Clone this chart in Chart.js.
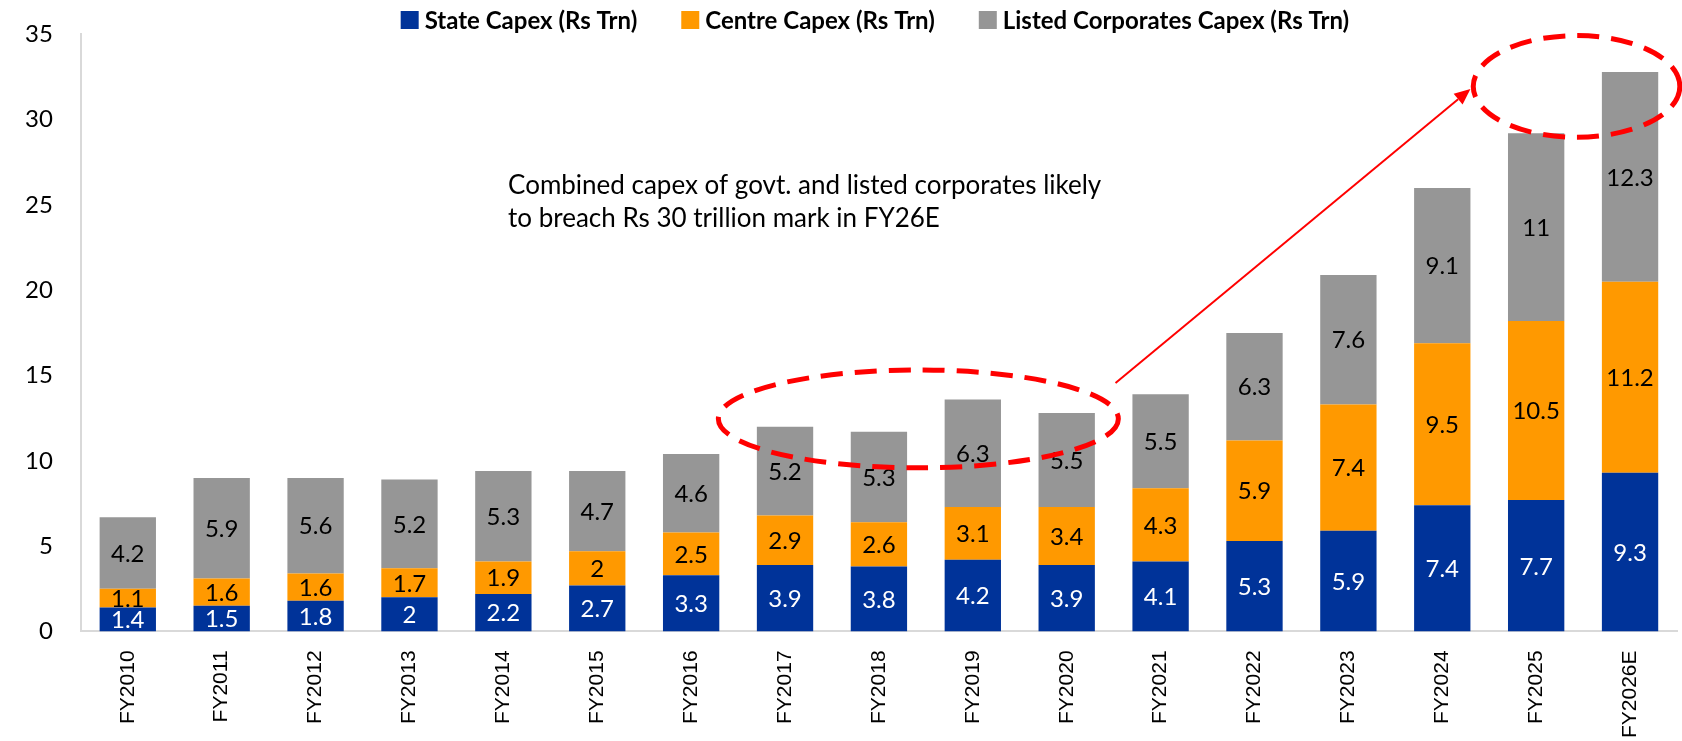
<!DOCTYPE html>
<html>
<head>
<meta charset="utf-8">
<script src="https://cdn.jsdelivr.net/npm/chart.js@4.4.1/dist/chart.umd.min.js"></script>
<style>
  html, body { margin: 0; padding: 0; background: #ffffff; }
  #wrap { width: 1682px; height: 741px; }
</style>
</head>
<body>
<div id="wrap"><canvas id="c" width="1682" height="741"></canvas></div>
<script>
// ---------------- data ----------------
const categories = ["FY2010","FY2011","FY2012","FY2013","FY2014","FY2015","FY2016","FY2017","FY2018","FY2019","FY2020","FY2021","FY2022","FY2023","FY2024","FY2025","FY2026E"];
const stateCapex  = [1.4, 1.5, 1.8, 2, 2.2, 2.7, 3.3, 3.9, 3.8, 4.2, 3.9, 4.1, 5.3, 5.9, 7.4, 7.7, 9.3];
const centreCapex = [1.1, 1.6, 1.6, 1.7, 1.9, 2, 2.5, 2.9, 2.6, 3.1, 3.4, 4.3, 5.9, 7.4, 9.5, 10.5, 11.2];
const listedCapex = [4.2, 5.9, 5.6, 5.2, 5.3, 4.7, 4.6, 5.2, 5.3, 6.3, 5.5, 5.5, 6.3, 7.6, 9.1, 11, 12.3];
const seriesNames = ["State Capex (Rs Trn)", "Centre Capex (Rs Trn)", "Listed Corporates Capex (Rs Trn)"];
const yTicks = [0, 5, 10, 15, 20, 25, 30, 35];
const noteLines = ["Combined capex of govt. and listed corporates likely", "to breach Rs 30 trillion mark in FY26E"];

// ---------------- styling / annotation placement (in data units) ----------------
const COLORS = ["#003399", "#FF9900", "#969696"];
const LABEL_COLORS = ["#FFFFFF", "#000000", "#000000"];
const ELLIPSES = [
  { cx: 8.42, cy: 12.46, rx: 2.13, ry: 2.87 },
  { cx: 15.43, cy: 31.95, rx: 1.10, ry: 2.98 }
];
const ARROW = { x1: 10.52, y1: 14.57, x2: 14.3, y2: 31.8 };
const NOTE_POS = { x: 4.05, y: 26.15 };

const CAL = "Lato, 'Noto Sans', sans-serif";

const segLabels = {
  id: 'segLabels',
  afterDatasetsDraw(chart) {
    const ctx = chart.ctx;
    ctx.save();
    ctx.font = "24px " + CAL;
    ctx.textAlign = 'center';
    ctx.textBaseline = 'middle';
    chart.data.datasets.forEach((ds, di) => {
      const meta = chart.getDatasetMeta(di);
      meta.data.forEach((bar, i) => {
        const p = bar.getProps(['x', 'y', 'base'], true);
        ctx.fillStyle = LABEL_COLORS[di];
        ctx.fillText(String(ds.data[i]), p.x, (p.y + p.base) / 2 + 1);
      });
    });
    ctx.restore();
  }
};

const customLegend = {
  id: 'customLegend',
  afterDraw(chart) {
    const ctx = chart.ctx;
    ctx.save();
    ctx.font = "bold 24px " + CAL;
    ctx.textBaseline = 'middle';
    const box = 18, gapBoxText = 6, gapItems = 44;
    const widths = chart.data.datasets.map(ds => box + gapBoxText + ctx.measureText(ds.label).width);
    const total = widths.reduce((a, b) => a + b, 0) + gapItems * (widths.length - 1);
    const ca = chart.chartArea;
    let x = (ca.left + ca.right) / 2 - total / 2 - 4;
    const y = 20;
    chart.data.datasets.forEach((ds, i) => {
      ctx.fillStyle = ds.backgroundColor;
      ctx.fillRect(x, y - box / 2, box, box);
      ctx.fillStyle = '#000';
      ctx.fillText(ds.label, x + box + gapBoxText, y + 1);
      x += widths[i] + gapItems;
    });
    ctx.restore();
  }
};

const annotations = {
  id: 'annotations',
  afterDraw(chart) {
    const ctx = chart.ctx;
    const xs = chart.scales.x, ys = chart.scales.y;
    const catW = xs.getPixelForValue(1) - xs.getPixelForValue(0);
    const unitH = ys.getPixelForValue(0) - ys.getPixelForValue(1);
    ctx.save();
    ctx.strokeStyle = '#FF0000';
    ctx.lineWidth = 5;
    ctx.setLineDash([22, 12]);
    ELLIPSES.forEach(e => {
      ctx.beginPath();
      ctx.ellipse(xs.getPixelForValue(e.cx), ys.getPixelForValue(e.cy), e.rx * catW, e.ry * unitH, 0, 0, Math.PI * 2);
      ctx.stroke();
    });
    ctx.setLineDash([]);
    const x1 = xs.getPixelForValue(ARROW.x1), y1 = ys.getPixelForValue(ARROW.y1);
    const x2 = xs.getPixelForValue(ARROW.x2), y2 = ys.getPixelForValue(ARROW.y2);
    const ang = Math.atan2(y2 - y1, x2 - x1);
    const hl = 16, hw = 7;
    ctx.lineWidth = 2;
    ctx.beginPath();
    ctx.moveTo(x1, y1);
    ctx.lineTo(x2 - hl * Math.cos(ang), y2 - hl * Math.sin(ang));
    ctx.stroke();
    ctx.fillStyle = '#FF0000';
    ctx.beginPath();
    ctx.moveTo(x2, y2);
    ctx.lineTo(x2 - hl * Math.cos(ang) + hw * Math.sin(ang), y2 - hl * Math.sin(ang) - hw * Math.cos(ang));
    ctx.lineTo(x2 - hl * Math.cos(ang) - hw * Math.sin(ang), y2 - hl * Math.sin(ang) + hw * Math.cos(ang));
    ctx.closePath();
    ctx.fill();
    ctx.fillStyle = '#000';
    ctx.font = "26px " + CAL;
    ctx.textAlign = 'left';
    ctx.textBaseline = 'middle';
    const nx = xs.getPixelForValue(NOTE_POS.x), ny = ys.getPixelForValue(NOTE_POS.y);
    noteLines.forEach((t, i) => ctx.fillText(t, nx, ny + i * 33));
    ctx.restore();
  }
};

const datasets = [stateCapex, centreCapex, listedCapex].map((d, i) => ({
  label: seriesNames[i],
  data: d,
  backgroundColor: COLORS[i],
  borderWidth: 0,
  barPercentage: 0.6,
  categoryPercentage: 1.0
}));

new Chart(document.getElementById('c'), {
  type: 'bar',
  data: { labels: categories, datasets },
  options: {
    responsive: false,
    devicePixelRatio: 1,
    animation: false,
    layout: { padding: { top: 34, left: 5, right: 5, bottom: -8 } },
    plugins: {
      legend: { display: false },
      tooltip: { enabled: false }
    },
    scales: {
      x: {
        stacked: true,
        grid: { display: false },
        border: { color: '#D9D9D9', width: 2 },
        ticks: {
          minRotation: 90, maxRotation: 90, autoSkip: false,
          color: '#000', padding: 11,
          font: { family: "'Liberation Sans', Arial, sans-serif", size: 21 }
        }
      },
      y: {
        stacked: true,
        min: 0, max: 35,
        afterBuildTicks(scale) { scale.ticks = yTicks.map(v => ({ value: v })); },
        grid: { display: false },
        border: { color: '#D9D9D9', width: 2 },
        ticks: { color: '#000', padding: 20, font: { family: CAL, size: 24 } }
      }
    }
  },
  plugins: [segLabels, customLegend, annotations]
});
</script>
</body>
</html>
